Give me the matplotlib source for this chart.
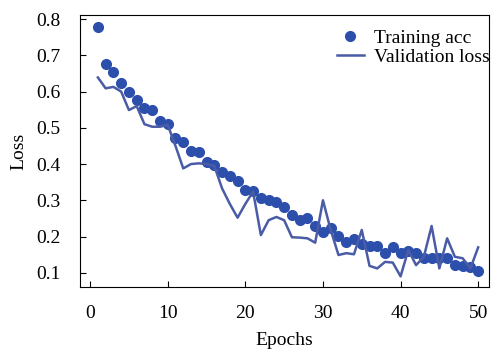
import numpy as np
import matplotlib
matplotlib.use("Agg")
import matplotlib.pyplot as plt

plt.rcParams['font.family'] = ['Liberation Serif', 'DejaVu Serif']

epochs = np.arange(1, 51)
train_acc = [0.779, 0.676, 0.654, 0.624, 0.600, 0.577, 0.556, 0.549, 0.519, 0.510,
             0.471, 0.462, 0.437, 0.434, 0.406, 0.397, 0.379, 0.367, 0.354, 0.328,
             0.326, 0.305, 0.300, 0.296, 0.281, 0.260, 0.246, 0.250, 0.229, 0.213,
             0.223, 0.201, 0.186, 0.192, 0.178, 0.174, 0.174, 0.155, 0.170, 0.154,
             0.160, 0.154, 0.140, 0.140, 0.142, 0.140, 0.121, 0.119, 0.115, 0.105]
val_loss = [0.639, 0.609, 0.613, 0.600, 0.549, 0.560, 0.510, 0.503, 0.503, 0.508,
            0.450, 0.388, 0.400, 0.402, 0.400, 0.395, 0.333, 0.290, 0.252, 0.290,
            0.324, 0.204, 0.245, 0.254, 0.245, 0.198, 0.197, 0.195, 0.183, 0.300,
            0.218, 0.149, 0.154, 0.151, 0.218, 0.119, 0.112, 0.130, 0.128, 0.090,
            0.163, 0.121, 0.144, 0.229, 0.112, 0.195, 0.144, 0.140, 0.112, 0.170]

fig = plt.figure(figsize=(4.91, 3.52), dpi=100)
ax = fig.add_axes([0.163, 0.185, 0.833, 0.772])

ax.plot(epochs, train_acc, 'o', color='#2d4fac', ms=7, label='Training acc')
ax.plot(epochs, val_loss, '-', color='#4a5ca6', lw=1.8, label='Validation loss')

ax.set_xlim(-1.3, 51.4)
ax.set_ylim(0.061, 0.811)
ax.set_xticks([0, 10, 20, 30, 40, 50])
ax.set_yticks([0.1, 0.2, 0.3, 0.4, 0.5, 0.6, 0.7, 0.8])
ax.tick_params(direction='in', length=4, labelsize=14)
ax.tick_params(axis='y', pad=14)
ax.tick_params(axis='x', pad=13)
ax.set_xlabel('Epochs', fontsize=14, labelpad=7)
ax.set_ylabel('Loss', fontsize=14, labelpad=6)

ax.legend(loc='upper right', bbox_to_anchor=(1.015, 0.97), frameon=False,
          fontsize=14, handlelength=1.4, handletextpad=0.5, labelspacing=0.1,
          borderpad=0.2, borderaxespad=0.1)

fig.savefig('out.png', dpi=100)
